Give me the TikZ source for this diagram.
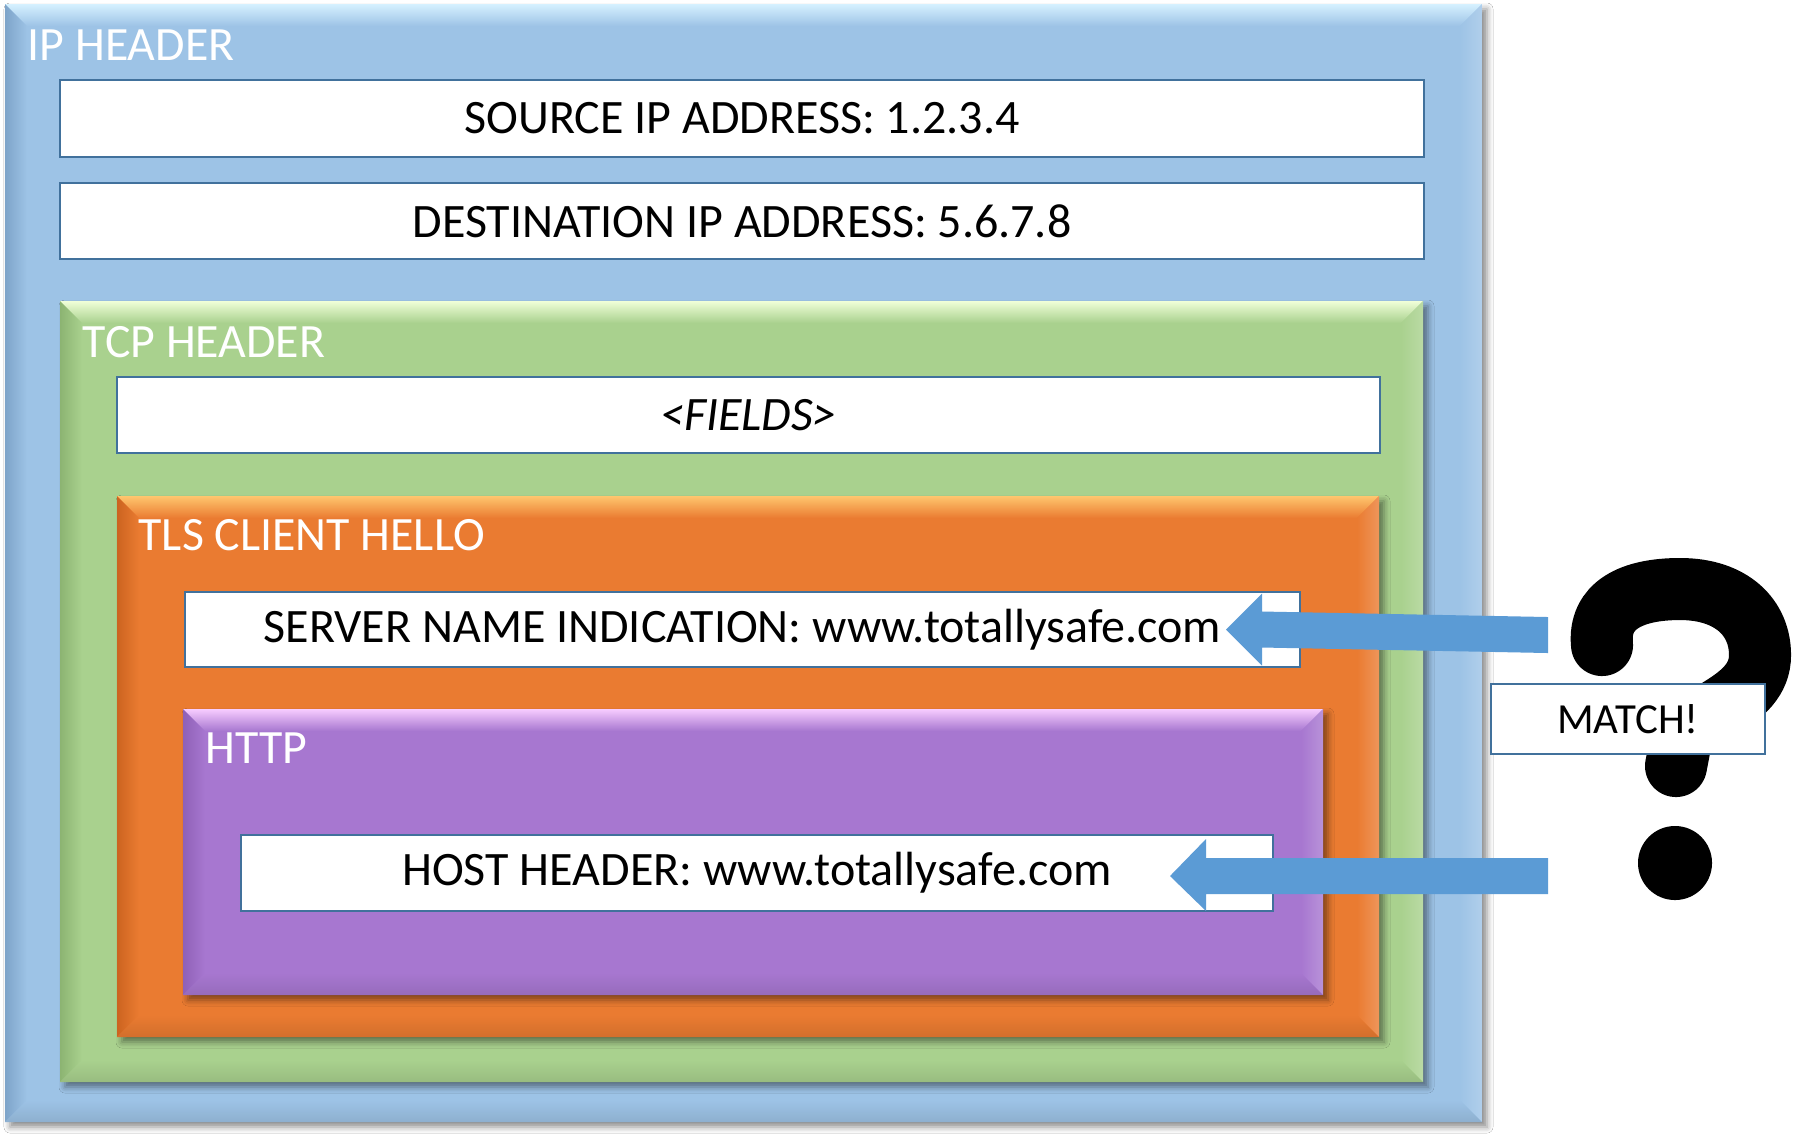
\documentclass[tikz,border=0pt]{standalone}
\usepackage{fontspec}
\setmainfont{Carlito}
\usetikzlibrary{fit,calc,shadows,shadows.blur}
\definecolor{ipblue}{HTML}{9DC3E6}
\definecolor{iplight}{HTML}{D6F1FF}
\definecolor{ipdark}{HTML}{7EA4C9}
\definecolor{tcpgreen}{HTML}{A9D18E}
\definecolor{tcplight}{HTML}{F0FFD8}
\definecolor{tcpdark}{HTML}{8CB472}
\definecolor{tlsorange}{HTML}{EA7B31}
\definecolor{tlslight}{HTML}{FFC66E}
\definecolor{tlsdark}{HTML}{CC6420}
\definecolor{httppurple}{HTML}{A777D0}
\definecolor{httplight}{HTML}{F7CCFF}
\definecolor{httpdark}{HTML}{8F61B7}
\definecolor{fieldborder}{HTML}{41719C}
\definecolor{arrowblue}{HTML}{5B9BD5}
\newcommand\fieldfont{\fontsize{13.65pt}{16pt}\selectfont}
\newcommand\matchfont{\fontsize{12.2pt}{15pt}\selectfont}
\newcommand\headfont{\fontsize{13.6pt}{16pt}\selectfont}
\newcommand\drawbevel[4]{%
  \shade[top color=#3, bottom color=#2] (#1.north west) -- (#1.north east) -- ($(#1.north east)+(-22,22)$) -- ($(#1.north west)+(22,22)$) -- cycle;
  \shade[left color=#4, right color=#2] (#1.north west) -- ($(#1.north west)+(22,22)$) -- ($(#1.south west)+(22,-22)$) -- (#1.south west) -- cycle;
  \shade[left color=#2, right color=#2!80!white] (#1.north east) -- (#1.south east) -- ($(#1.south east)+(-22,-22)$) -- ($(#1.north east)+(-22,22)$) -- cycle;
  \shade[top color=#2, bottom color=#2!90!black] (#1.south west) -- ($(#1.south west)+(22,-22)$) -- ($(#1.south east)+(-22,-22)$) -- (#1.south east) -- cycle;
}
\tikzset{
  layerbox/.style={inner sep=0pt, outer sep=0pt, draw=none,
    blur shadow={shadow xshift=0.5mm, shadow yshift=-0.5mm, shadow blur radius=0.6mm, shadow opacity=45}},
  fieldbox/.style={inner sep=0pt, outer sep=0pt, draw=fieldborder, line width=0.25mm, fill=white},
  fieldtext/.style={inner sep=0pt, font=\fieldfont, text=black},
  headlabel/.style={anchor=base west, inner sep=0pt, text=white, font=\headfont},
  matcharrow/.style={fill=arrowblue, draw=none},
  qmark/.style={draw=black, line width=6.2mm, line cap=round},
}
\begin{document}
\begin{tikzpicture}[x=0.01cm, y=-0.01cm]
\fill[white] (0,0) rectangle (1816,1135);
\useasboundingbox (0,0) rectangle (1816,1135);

% IP header
\coordinate (ipA) at (5,4); \coordinate (ipB) at (1482,1122);
\node[layerbox, fill=ipblue, fit=(ipA)(ipB)] (ip) {};
\drawbevel{ip}{ipblue}{iplight}{ipdark}
\node[headlabel] (iplabel) at (27,60) {IP HEADER};
\coordinate (srcA) at (60,80); \coordinate (srcB) at (1424,157);
\node[fieldbox, fit=(srcA)(srcB)] (src) {};
\node[fieldtext] (srctext) at (src.center) {SOURCE IP ADDRESS: 1.2.3.4};
\coordinate (dstA) at (60,183); \coordinate (dstB) at (1424,259);
\node[fieldbox, fit=(dstA)(dstB)] (dst) {};
\node[fieldtext] (dsttext) at (dst.center) {DESTINATION IP ADDRESS: 5.6.7.8};

% TCP header
\coordinate (tcpA) at (60,301); \coordinate (tcpB) at (1423,1082);
\node[layerbox, fill=tcpgreen, fit=(tcpA)(tcpB)] (tcp) {};
\drawbevel{tcp}{tcpgreen}{tcplight}{tcpdark}
\node[headlabel] (tcplabel) at (82,357) {TCP HEADER};
\coordinate (fldA) at (117,377); \coordinate (fldB) at (1380,453);
\node[fieldbox, fit=(fldA)(fldB)] (fields) {};
\node[fieldtext] (fieldstext) at (fields.center) {\itshape <FIELDS>};

% TLS client hello
\coordinate (tlsA) at (117,496); \coordinate (tlsB) at (1379,1037);
\node[layerbox, fill=tlsorange, fit=(tlsA)(tlsB)] (tls) {};
\drawbevel{tls}{tlsorange}{tlslight}{tlsdark}
\node[headlabel] (tlslabel) at (138,550) {TLS CLIENT HELLO};
\coordinate (sniA) at (185,592); \coordinate (sniB) at (1300,667);
\node[fieldbox, fit=(sniA)(sniB)] (sni) {};
\node[fieldtext] (snitext) at (sni.center) {SERVER NAME INDICATION: www.totallysafe.com};

% HTTP
\coordinate (httpA) at (183,709); \coordinate (httpB) at (1323,995);
\node[layerbox, fill=httppurple, fit=(httpA)(httpB)] (http) {};
\drawbevel{http}{httppurple}{httplight}{httpdark}
\node[headlabel] (httplabel) at (205,763) {HTTP};
\coordinate (hostA) at (241,835); \coordinate (hostB) at (1273,911);
\node[fieldbox, fit=(hostA)(hostB)] (host) {};
\node[fieldtext] (hosttext) at (host.center) {HOST HEADER: www.totallysafe.com};

% question mark
\draw[qmark] (1602,645) .. controls (1598,605) and (1632,589) .. (1680,589)
  .. controls (1732,589) and (1760,618) .. (1760,655)
  .. controls (1760,705) and (1688,712) .. (1680,745) -- (1676,766);
\fill[black] (1675,863) circle[radius=3.7mm];

% match box
\coordinate (mA) at (1491,684); \coordinate (mB) at (1765,754);
\node[fieldbox, fit=(mA)(mB)] (match) {};
\node[fieldtext, font=\matchfont] (matchtext) at (match.center) {MATCH!};

% arrows
\coordinate (snitail) at (1548,635);
\coordinate (snitip) at ($(sni.east)+(-74,0)$);
\fill[matcharrow] (snitip) -- ($(snitip)+(36,-36)$) -- ($(snitip)+(36,-18)$) -- ($(snitail)+(0,-18)$)
  -- ($(snitail)+(0,18)$) -- ($(snitip)+(36,18)$) -- ($(snitip)+(36,36)$) -- cycle;
\coordinate (hosttail) at (1548,876);
\coordinate (hosttip) at ($(host.east)+(-103,3)$);
\fill[matcharrow] (hosttip) -- ($(hosttip)+(36,-37)$) -- ($(hosttip)+(36,-18)$) -- ($(hosttail)+(0,-18)$)
  -- ($(hosttail)+(0,18)$) -- ($(hosttip)+(36,18)$) -- ($(hosttip)+(36,35)$) -- cycle;
\end{tikzpicture}
\end{document}
